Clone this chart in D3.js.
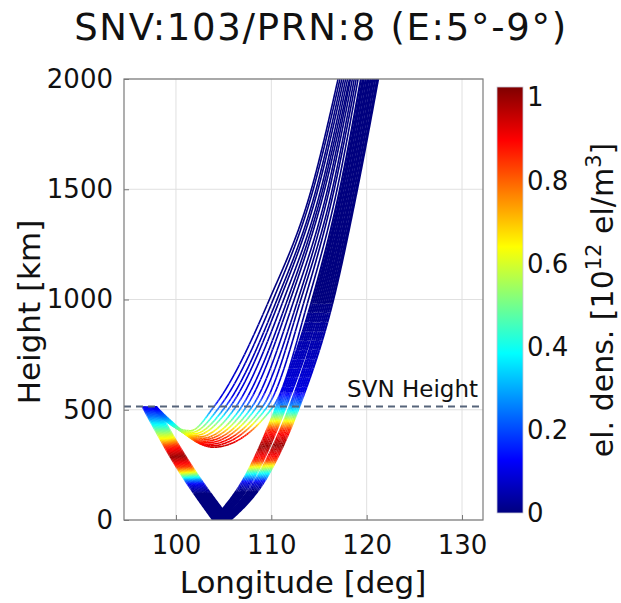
<!DOCTYPE html>
<html>
<head>
<meta charset="utf-8">
<script src="https://cdn.jsdelivr.net/npm/d3@7"></script>
<style>
  body { margin: 0; background: #fff; }
  text { font-family: "DejaVu Sans", Verdana, sans-serif; fill: #111; }
</style>
</head>
<body>
<div id="chart"></div>
<script>
// ---- data ----
const svnHeight = 515;
const xTicks = [100, 110, 120, 130];
const yTicks = [0, 500, 1000, 1500, 2000];
const cbTicks = [0, 0.2, 0.4, 0.6, 0.8, 1];

// upper bundle: rays that stay above ground
const upperStart   = [97.50, 97.54, 97.58, 97.62, 97.65, 97.69, 97.73, 97.76, 97.80, 97.84, 97.87, 97.90];
const upperLon450  = [98.90, 98.95, 99.00, 99.05, 99.10, 99.15, 99.20, 99.25, 99.30, 99.35, 99.40, 99.45];
const upperMinLon  = [101.5, 101.7, 101.9, 102.1, 102.4, 102.6, 102.8, 103.0, 103.2, 103.4, 103.6, 103.9];
const upperMinH    = [405, 398, 391, 384, 377, 370, 364, 357, 350, 343, 336, 330];
const upperLon515  = [104.0, 104.6, 105.2, 105.7, 106.3, 106.9, 107.4, 108.0, 108.5, 109.1, 109.6, 110.2];
const upperLon1000 = [109.8, 110.2, 110.6, 110.9, 111.3, 111.7, 112.0, 112.4, 112.8, 113.1, 113.5, 113.9];
const upperLon1500 = [114.2, 114.4, 114.7, 114.9, 115.2, 115.4, 115.6, 115.9, 116.1, 116.4, 116.6, 116.9];
const upperLon2000 = [117.0, 117.2, 117.4, 117.6, 117.8, 118.0, 118.2, 118.3, 118.5, 118.7, 118.9, 119.1];

// lower band: rays that reach the ground
const lowerStart   = [96.50, 96.63, 96.75, 96.88, 97.00, 97.13, 97.25, 97.38, 97.50, 97.63, 97.75, 97.90];
const lowerLon260  = [99.80, 99.95, 100.09, 100.24, 100.38, 100.53, 100.67, 100.82, 100.96, 101.10, 101.25, 101.40];
const lowerGround  = [103.90, 104.06, 104.23, 104.39, 104.55, 104.72, 104.88, 105.04, 105.21, 105.37, 105.54, 105.70];
const lowerLon200  = [107.3, 107.5, 107.7, 107.9, 108.1, 108.3, 108.6, 108.8, 109.0, 109.2, 109.4, 109.6];
const lowerLon500  = [110.4, 110.6, 110.8, 111.0, 111.2, 111.4, 111.8, 112.0, 112.2, 112.4, 112.6, 112.8];
const lowerLon1000 = [114.3, 114.5, 114.7, 114.9, 115.1, 115.3, 115.5, 115.7, 115.9, 116.1, 116.3, 116.5];
const lowerLon1500 = [117.2, 117.4, 117.5, 117.7, 117.9, 118.0, 118.2, 118.4, 118.5, 118.7, 118.9, 119.0];
const lowerLon2000 = [119.4, 119.6, 119.7, 119.9, 120.1, 120.2, 120.4, 120.6, 120.7, 120.9, 121.1, 121.2];

// electron density profile: heights where the density takes each level, west and east side
const profLon    = [99, 110];
const profLevel  = [0, 0.1, 0.25, 0.45, 0.65, 0.85, 1.0, 0.85, 0.65, 0.45, 0.25, 0.1, 0];
const profWestH  = [120, 160, 180, 195, 213, 240, 285, 335, 370, 420, 470, 515, 900];
const profEastH  = [130, 170, 190, 220, 245, 270, 335, 410, 445, 480, 520, 580, 1000];

// ---- layout ----
const W = 621, H = 603;
const plot = { left: 124, right: 483, top: 79, bottom: 520 };
const cbar = { x: 497, w: 26, top: 87, bottom: 513 };

const x = d3.scaleLinear().domain([94.55, 132.2]).range([plot.left, plot.right]);
const y = d3.scaleLinear().domain([0, 2000]).range([plot.bottom, plot.top]);
const cScale = d3.scaleLinear().domain([0, 1.025]).range([cbar.bottom, cbar.top]);

const jetStops = [0, 0.125, 0.375, 0.625, 0.875, 1];
const jetCols = ["#00007f", "#0000ff", "#00ffff", "#ffff00", "#ff0000", "#7f0000"];
const jet = d3.scaleLinear().domain(jetStops).range(jetCols).clamp(true);
const colorOf = v => jet(v / 1.025);

const svg = d3.select("#chart").append("svg")
  .attr("width", W).attr("height", H);

// grid
const grid = svg.append("g");
grid.selectAll("line.gx").data(xTicks).join("line")
  .attr("x1", d => x(d)).attr("x2", d => x(d))
  .attr("y1", plot.top).attr("y2", plot.bottom)
  .attr("stroke", "#e0e0e0").attr("stroke-width", 1);
grid.selectAll("line.gy").data(yTicks).join("line")
  .attr("x1", plot.left).attr("x2", plot.right)
  .attr("y1", d => y(d)).attr("y2", d => y(d))
  .attr("stroke", "#e0e0e0").attr("stroke-width", 1);

svg.append("clipPath").attr("id", "clip").append("rect")
  .attr("x", plot.left).attr("y", plot.top)
  .attr("width", plot.right - plot.left).attr("height", plot.bottom - plot.top);

const rays = svg.append("g").attr("clip-path", "url(#clip)");

function density(lon, h) {
  let t = (lon - profLon[0]) / (profLon[1] - profLon[0]);
  t = Math.max(0, Math.min(1, t));
  const hs = profWestH.map((hw, i) => hw + t * (profEastH[i] - hw));
  return d3.scaleLinear().domain(hs).range(profLevel).clamp(true)(h);
}

const line = d3.line().x(d => x(d[0])).y(d => y(d[1])).curve(d3.curveMonotoneX);
const pxLine = d3.line();

function drawRay(pts, width) {
  const p = rays.append("path").attr("d", line(pts)).attr("fill", "none");
  const node = p.node();
  const L = node.getTotalLength();
  const samples = [];
  for (let s = 0; s < L; s += 1) samples.push(node.getPointAtLength(s));
  samples.push(node.getPointAtLength(L));
  p.remove();
  const bin = q => Math.round(density(x.invert(q.x), y.invert(q.y)) * 100);
  let run = [samples[0]], b = bin(samples[0]);
  const flush = () => {
    rays.append("path")
      .attr("d", pxLine(run.map(q => [q.x, q.y])))
      .attr("fill", "none")
      .attr("stroke", colorOf(b / 100))
      .attr("stroke-width", width)
      .attr("stroke-linejoin", "round");
  };
  for (let i = 1; i < samples.length; i++) {
    const nb = bin(samples[i]);
    run.push(samples[i]);
    if (nb !== b) { flush(); run = [samples[i]]; b = nb; }
  }
  if (run.length > 1) flush();
}

lowerStart.forEach((s, i) => {
  drawRay([[s, svnHeight], [lowerLon260[i], 260], [lowerGround[i], 0]], 2.2);
  drawRay([[lowerGround[i], 0], [lowerLon200[i], 200], [lowerLon500[i], 500],
           [lowerLon1000[i], 1000], [lowerLon1500[i], 1500], [lowerLon2000[i], 2000]], 2.2);
});

upperStart.forEach((s, i) => {
  drawRay([[s, svnHeight], [upperLon450[i], 450], [upperMinLon[i], upperMinH[i]],
           [upperLon515[i], 515], [upperLon1000[i], 1000], [upperLon1500[i], 1500],
           [upperLon2000[i], 2000]], 1.6);
});

// SVN height line
svg.append("line")
  .attr("x1", plot.left).attr("x2", plot.right)
  .attr("y1", y(svnHeight)).attr("y2", y(svnHeight))
  .attr("stroke", "#56647a").attr("stroke-width", 2)
  .attr("stroke-dasharray", "7,5");
svg.append("text")
  .attr("x", 478).attr("y", y(svnHeight) - 9)
  .attr("text-anchor", "end").attr("font-size", 23)
  .text("SVN Height");

// axes
const xAxis = svg.append("g").attr("transform", `translate(0,${plot.bottom})`)
  .call(d3.axisBottom(x).tickValues(xTicks).tickFormat(d3.format("d"))
    .tickSizeInner(-5).tickSizeOuter(0).tickPadding(16));
const yAxis = svg.append("g").attr("transform", `translate(${plot.left},0)`)
  .call(d3.axisLeft(y).tickValues(yTicks).tickFormat(d3.format("d"))
    .tickSizeInner(-5).tickSizeOuter(0).tickPadding(11));
[xAxis, yAxis].forEach(a => {
  a.select(".domain").remove();
  a.selectAll(".tick line").attr("stroke", "#777");
  a.selectAll("text").attr("font-size", 26).attr("font-family", null).attr("fill", "#111");
});

svg.append("rect")
  .attr("x", plot.left).attr("y", plot.top)
  .attr("width", plot.right - plot.left).attr("height", plot.bottom - plot.top)
  .attr("fill", "none").attr("stroke", "#7a7a7a").attr("stroke-width", 1.2);

// colorbar
const grad = svg.append("defs").append("linearGradient").attr("id", "jetgrad")
  .attr("x1", 0).attr("y1", 1).attr("x2", 0).attr("y2", 0);
grad.selectAll("stop").data(d3.range(0, 1.0001, 0.025)).join("stop")
  .attr("offset", d => d)
  .attr("stop-color", d => colorOf(d * 1.025));
svg.append("rect")
  .attr("x", cbar.x).attr("y", cbar.top)
  .attr("width", cbar.w).attr("height", cbar.bottom - cbar.top)
  .attr("fill", "url(#jetgrad)")
  .attr("stroke", "#c8c8d8").attr("stroke-width", 0.8);
svg.append("g").selectAll("text").data(cbTicks).join("text")
  .attr("x", 527).attr("y", d => cScale(d))
  .attr("dy", "0.35em").attr("font-size", 26)
  .text(d => d3.format("")(d));

// labels
svg.append("text")
  .attr("x", 321).attr("y", 40)
  .attr("text-anchor", "middle").attr("font-size", 37)
  .attr("letter-spacing", 1.7)
  .text("SNV:103/PRN:8 (E:5°-9°)");

svg.append("text")
  .attr("x", 303).attr("y", 593)
  .attr("text-anchor", "middle").attr("font-size", 31)
  .text("Longitude [deg]");

svg.append("text")
  .attr("transform", "translate(40,312) rotate(-90)")
  .attr("text-anchor", "middle").attr("font-size", 31)
  .text("Height [km]");

const cbl = svg.append("text")
  .attr("transform", "translate(613,300) rotate(-90)")
  .attr("text-anchor", "middle").attr("font-size", 30);
cbl.append("tspan").text("el. dens. [10");
cbl.append("tspan").attr("dy", -12).attr("font-size", 21).text("12");
cbl.append("tspan").attr("dy", 12).text(" el/m");
cbl.append("tspan").attr("dy", -12).attr("font-size", 21).text("3");
cbl.append("tspan").attr("dy", 12).text("]");
</script>
</body>
</html>
